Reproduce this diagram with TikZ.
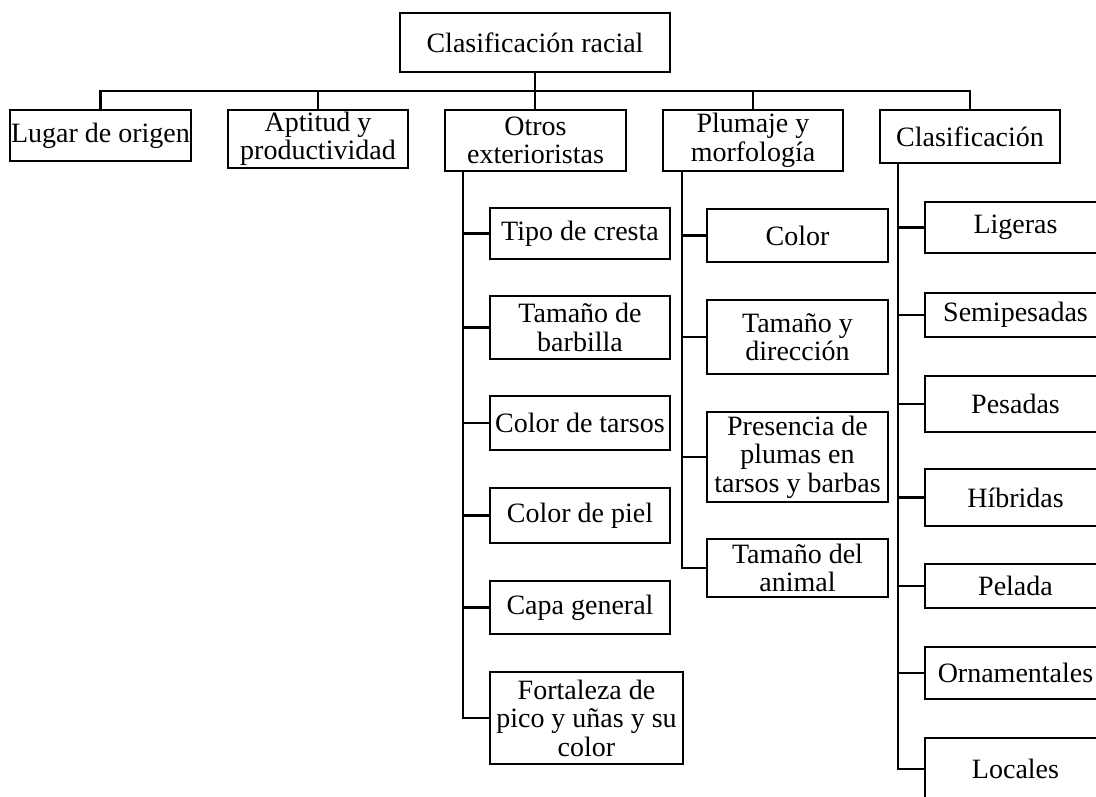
\documentclass[tikz,border=0pt]{standalone}
\usepackage{fontspec}
\setmainfont{Liberation Serif}
\begin{document}
\begin{tikzpicture}[x=1pt,y=-1pt,
  box/.style={draw=black, line width=2pt, align=center, inner sep=0pt,
    font=\fontsize{28}{28.5}\selectfont},
  conn/.style={draw=black, line width=2.3pt}]
\useasboundingbox (0,0) rectangle (1096,797);
\clip (0,0) rectangle (1096,797);
% root
\node[box, minimum width=270, minimum height=59] (root) at (535,42.5) {Clasificación racial};
% level 1
\node[box, minimum width=181, minimum height=51] (lugar) at (100.5,135.5) {Lugar de origen};
\node[box, minimum width=180, minimum height=58] (aptitud) at (318,139) {Aptitud y\\productividad};
\node[box, minimum width=181, minimum height=61] (otros) at (535.5,140.5) {Otros\\exterioristas};
\node[box, minimum width=180, minimum height=61] (plumaje) at (753,140.5) {Plumaje y\\morfología};
\node[box, minimum width=180, minimum height=53] (clasif) at (970,136.5) {Clasificación};
% Otros children
\node[box, minimum width=180, minimum height=51] (tipo) at (580,233.5) {Tipo de cresta};
\node[box, minimum width=180, minimum height=63] (barbilla) at (580,327.5) {Tamaño de\\barbilla};
\node[box, minimum width=180, minimum height=54] (tarsos) at (580,423) {Color de tarsos};
\node[box, minimum width=180, minimum height=55] (piel) at (580,515.5) {Color de piel};
\node[box, minimum width=180, minimum height=53] (capa) at (580,607.5) {Capa general};
\node[box, minimum width=193, minimum height=92] (fort) at (586.5,718) {Fortaleza de\\pico y uñas y su\\color};
% Plumaje children
\node[box, minimum width=181, minimum height=53] (color) at (797.5,235.5) {Color};
\node[box, minimum width=181, minimum height=74] (tdir) at (797.5,337) {Tamaño y\\dirección};
\node[box, minimum width=181, minimum height=90] (pres) at (797.5,457) {Presencia de\\plumas en\\tarsos y barbas};
\node[box, minimum width=181, minimum height=58] (tanim) at (797.5,568) {Tamaño del\\animal};
% Clasificacion children
\node[box, minimum width=181, minimum height=51] (lig) at (1015.5,227.5) {Ligeras};
\node[box, minimum width=181, minimum height=44] (semi) at (1015.5,315) {Semipesadas};
\node[box, minimum width=181, minimum height=56] (pes) at (1015.5,404) {Pesadas};
\node[box, minimum width=181, minimum height=57] (hib) at (1015.5,497.5) {Híbridas};
\node[box, minimum width=181, minimum height=44] (pel) at (1015.5,586) {Pelada};
\node[box, minimum width=181, minimum height=52] (orn) at (1015.5,673) {Ornamentales};
\node[box, minimum width=181, minimum height=62] (loc) at (1015.5,769) {Locales};
% bus
\coordinate (bus) at (0,91);
\draw[conn] (root.south) -- (root.south |- otros.north);
\draw[conn] (lugar.north) |- (bus -| clasif.north) -- (clasif.north);
\draw[conn] (aptitud.north) -- (aptitud.north |- bus);
\draw[conn] (plumaje.north) -- (plumaje.north |- bus);
% Otros branch
\coordinate (ov) at (463,171);
\draw[conn] (ov) |- (fort.west);
\foreach \n in {tipo,barbilla,tarsos,piel,capa} \draw[conn] (ov |- \n.west) -- (\n.west);
% Plumaje branch
\coordinate (pv) at (682,171);
\draw[conn] (pv) |- (tanim.west);
\foreach \n in {color,tdir,pres} \draw[conn] (pv |- \n.west) -- (\n.west);
% Clasificacion branch
\coordinate (cv) at (898,163);
\draw[conn] (cv) |- (loc.west);
\foreach \n in {lig,semi,pes,hib,pel,orn} \draw[conn] (cv |- \n.west) -- (\n.west);
\end{tikzpicture}
\end{document}
